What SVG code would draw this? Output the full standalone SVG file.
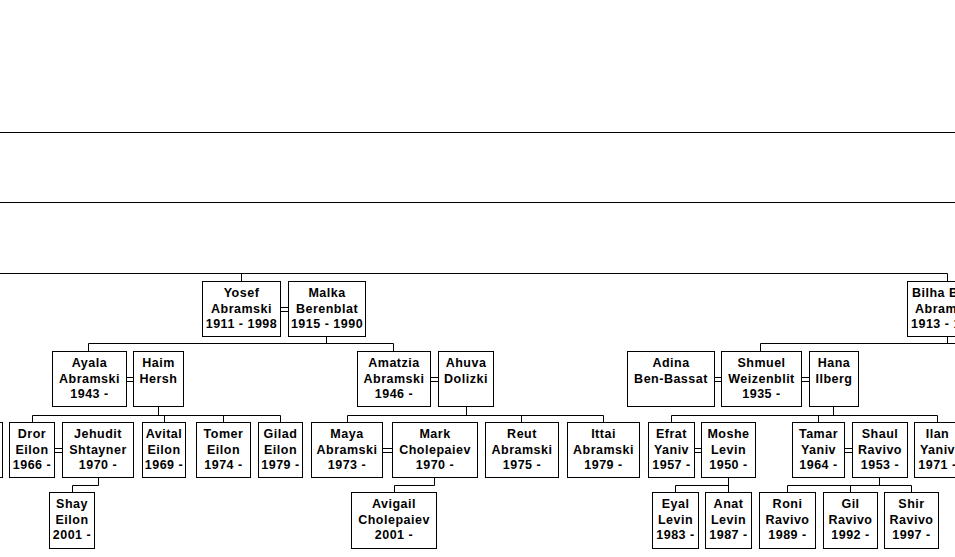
<svg xmlns="http://www.w3.org/2000/svg" width="955" height="557" viewBox="0 0 955 557">
<style>
rect.b{fill:#fff;stroke:#000;stroke-width:1}
#connectors line{stroke:#000;stroke-width:1}
text{font-family:"Liberation Sans",Arial,sans-serif;font-size:12.5px;font-weight:bold;fill:#000;text-anchor:middle;letter-spacing:0.5px}
text.s{text-anchor:start}
</style>
<rect x="0" y="0" width="955" height="557" fill="#fff"/>
<g id="connectors">
<line x1="0" y1="132.5" x2="955" y2="132.5"/>
<line x1="0" y1="202.5" x2="955" y2="202.5"/>
<line x1="0" y1="273.5" x2="947.5" y2="273.5"/>
<line x1="241.5" y1="273.5" x2="241.5" y2="281"/>
<line x1="947.5" y1="273.5" x2="947.5" y2="281"/>
<line x1="326.5" y1="336" x2="326.5" y2="343.5"/>
<line x1="88.5" y1="343.5" x2="393.5" y2="343.5"/>
<line x1="88.5" y1="343.5" x2="88.5" y2="351"/>
<line x1="393.5" y1="343.5" x2="393.5" y2="351"/>
<line x1="947.5" y1="336" x2="947.5" y2="343.5"/>
<line x1="760.5" y1="343.5" x2="955" y2="343.5"/>
<line x1="760.5" y1="343.5" x2="760.5" y2="351"/>
<line x1="158.5" y1="406" x2="158.5" y2="415.5"/>
<line x1="32.5" y1="415.5" x2="280.5" y2="415.5"/>
<line x1="32.5" y1="415.5" x2="32.5" y2="422"/>
<line x1="164.5" y1="415.5" x2="164.5" y2="422"/>
<line x1="223.5" y1="415.5" x2="223.5" y2="422"/>
<line x1="280.5" y1="415.5" x2="280.5" y2="422"/>
<line x1="98.5" y1="477" x2="98.5" y2="485.5"/>
<line x1="72.5" y1="485.5" x2="98.5" y2="485.5"/>
<line x1="72.5" y1="485.5" x2="72.5" y2="492"/>
<line x1="466.5" y1="406" x2="466.5" y2="415.5"/>
<line x1="347.5" y1="415.5" x2="603.5" y2="415.5"/>
<line x1="347.5" y1="415.5" x2="347.5" y2="422"/>
<line x1="521.5" y1="415.5" x2="521.5" y2="422"/>
<line x1="603.5" y1="415.5" x2="603.5" y2="422"/>
<line x1="434.5" y1="477" x2="434.5" y2="485.5"/>
<line x1="394.5" y1="485.5" x2="434.5" y2="485.5"/>
<line x1="394.5" y1="485.5" x2="394.5" y2="492"/>
<line x1="833.5" y1="406" x2="833.5" y2="415.5"/>
<line x1="671.5" y1="415.5" x2="937.5" y2="415.5"/>
<line x1="671.5" y1="415.5" x2="671.5" y2="422"/>
<line x1="818.5" y1="415.5" x2="818.5" y2="422"/>
<line x1="937.5" y1="415.5" x2="937.5" y2="422"/>
<line x1="728.5" y1="477" x2="728.5" y2="492"/>
<line x1="675.5" y1="485.5" x2="728.5" y2="485.5"/>
<line x1="675.5" y1="485.5" x2="675.5" y2="492"/>
<line x1="879.5" y1="477" x2="879.5" y2="485.5"/>
<line x1="787.5" y1="485.5" x2="911.5" y2="485.5"/>
<line x1="787.5" y1="485.5" x2="787.5" y2="492"/>
<line x1="850.5" y1="485.5" x2="850.5" y2="492"/>
<line x1="911.5" y1="485.5" x2="911.5" y2="492"/>
<!-- spouse links -->
<line x1="281" y1="307.5" x2="288" y2="307.5"/><line x1="281" y1="311.5" x2="288" y2="311.5"/>
<line x1="126" y1="377.5" x2="133" y2="377.5"/><line x1="126" y1="381.5" x2="133" y2="381.5"/>
<line x1="430" y1="377.5" x2="438" y2="377.5"/><line x1="430" y1="381.5" x2="438" y2="381.5"/>
<line x1="714" y1="377.5" x2="721" y2="377.5"/><line x1="714" y1="381.5" x2="721" y2="381.5"/>
<line x1="801" y1="377.5" x2="809" y2="377.5"/><line x1="801" y1="381.5" x2="809" y2="381.5"/>
<line x1="54" y1="448.5" x2="62" y2="448.5"/><line x1="54" y1="452.5" x2="62" y2="452.5"/>
<line x1="382" y1="448.5" x2="392" y2="448.5"/><line x1="382" y1="452.5" x2="392" y2="452.5"/>
<line x1="694" y1="448.5" x2="701" y2="448.5"/><line x1="694" y1="452.5" x2="701" y2="452.5"/>
<line x1="844" y1="448.5" x2="852" y2="448.5"/><line x1="844" y1="452.5" x2="852" y2="452.5"/>
</g>

<g id="yosef"><rect class="b" x="202.5" y="281.5" width="78" height="55"/><text x="241.5" y="297">Yosef</text><text x="241.5" y="313">Abramski</text><text x="241.5" y="328">1911 - 1998</text></g>
<g id="malka"><rect class="b" x="288.5" y="281.5" width="77" height="55"/><text x="327" y="297">Malka</text><text x="327" y="313">Berenblat</text><text x="327" y="328">1915 - 1990</text></g>
<g id="bilha"><rect class="b" x="907.5" y="281.5" width="80" height="55"/><text class="s" x="912" y="297">Bilha B</text><text class="s" x="915" y="313">Abram</text><text class="s" x="911" y="328">1913 - 1</text></g>

<g id="ayala"><rect class="b" x="52.5" y="351.5" width="74" height="55"/><text x="89.5" y="367">Ayala</text><text x="89.5" y="383">Abramski</text><text x="89.5" y="398">1943 -</text></g>
<g id="haim"><rect class="b" x="133.5" y="351.5" width="50" height="55"/><text x="158.5" y="367">Haim</text><text x="158.5" y="383">Hersh</text></g>
<g id="amatzia"><rect class="b" x="357.5" y="351.5" width="73" height="55"/><text x="394" y="367">Amatzia</text><text x="394" y="383">Abramski</text><text x="394" y="398">1946 -</text></g>
<g id="ahuva"><rect class="b" x="438.5" y="351.5" width="55" height="55"/><text x="466" y="367">Ahuva</text><text x="466" y="383">Dolizki</text></g>
<g id="adina"><rect class="b" x="627.5" y="351.5" width="87" height="55"/><text x="671" y="367">Adina</text><text x="671" y="383">Ben-Bassat</text></g>
<g id="shmuel"><rect class="b" x="721.5" y="351.5" width="80" height="55"/><text x="761.5" y="367">Shmuel</text><text x="761.5" y="383">Weizenblit</text><text x="761.5" y="398">1935 -</text></g>
<g id="hana"><rect class="b" x="809.5" y="351.5" width="49" height="55"/><text x="834" y="367">Hana</text><text x="834" y="383">Ilberg</text></g>

<g id="partial"><rect class="b" x="-50.5" y="422.5" width="53" height="55"/></g>
<g id="dror"><rect class="b" x="9.5" y="422.5" width="45" height="55"/><text x="32" y="438">Dror</text><text x="32" y="454">Eilon</text><text x="32" y="469">1966 -</text></g>
<g id="jehudit"><rect class="b" x="62.5" y="422.5" width="71" height="55"/><text x="98" y="438">Jehudit</text><text x="98" y="454">Shtayner</text><text x="98" y="469">1970 -</text></g>
<g id="avital"><rect class="b" x="142.5" y="422.5" width="43" height="55"/><text x="164" y="438">Avital</text><text x="164" y="454">Eilon</text><text x="164" y="469">1969 -</text></g>
<g id="tomer"><rect class="b" x="196.5" y="422.5" width="54" height="55"/><text x="223.5" y="438">Tomer</text><text x="223.5" y="454">Eilon</text><text x="223.5" y="469">1974 -</text></g>
<g id="gilad"><rect class="b" x="258.5" y="422.5" width="44" height="55"/><text x="280.5" y="438">Gilad</text><text x="280.5" y="454">Eilon</text><text x="280.5" y="469">1979 -</text></g>
<g id="maya"><rect class="b" x="311.5" y="422.5" width="71" height="55"/><text x="347" y="438">Maya</text><text x="347" y="454">Abramski</text><text x="347" y="469">1973 -</text></g>
<g id="mark"><rect class="b" x="392.5" y="422.5" width="85" height="55"/><text x="435" y="438">Mark</text><text x="435" y="454">Cholepaiev</text><text x="435" y="469">1970 -</text></g>
<g id="reut"><rect class="b" x="485.5" y="422.5" width="73" height="55"/><text x="522" y="438">Reut</text><text x="522" y="454">Abramski</text><text x="522" y="469">1975 -</text></g>
<g id="ittai"><rect class="b" x="567.5" y="422.5" width="72" height="55"/><text x="603.5" y="438">Ittai</text><text x="603.5" y="454">Abramski</text><text x="603.5" y="469">1979 -</text></g>
<g id="efrat"><rect class="b" x="648.5" y="422.5" width="46" height="55"/><text x="671.5" y="438">Efrat</text><text x="671.5" y="454">Yaniv</text><text x="671.5" y="469">1957 -</text></g>
<g id="moshe"><rect class="b" x="701.5" y="422.5" width="54" height="55"/><text x="728.5" y="438">Moshe</text><text x="728.5" y="454">Levin</text><text x="728.5" y="469">1950 -</text></g>
<g id="tamar"><rect class="b" x="792.5" y="422.5" width="52" height="55"/><text x="818.5" y="438">Tamar</text><text x="818.5" y="454">Yaniv</text><text x="818.5" y="469">1964 -</text></g>
<g id="shaul"><rect class="b" x="852.5" y="422.5" width="55" height="55"/><text x="880" y="438">Shaul</text><text x="880" y="454">Ravivo</text><text x="880" y="469">1953 -</text></g>
<g id="ilan"><rect class="b" x="914.5" y="422.5" width="46" height="55"/><text x="937.5" y="438">Ilan</text><text x="937.5" y="454">Yaniv</text><text x="937.5" y="469">1971 -</text></g>

<g id="shay"><rect class="b" x="49.5" y="492.5" width="45" height="56"/><text x="72" y="508">Shay</text><text x="72" y="524">Eilon</text><text x="72" y="539">2001 -</text></g>
<g id="avigail"><rect class="b" x="351.5" y="492.5" width="85" height="56"/><text x="394" y="508">Avigail</text><text x="394" y="524">Cholepaiev</text><text x="394" y="539">2001 -</text></g>
<g id="eyal"><rect class="b" x="652.5" y="492.5" width="46" height="56"/><text x="675.5" y="508">Eyal</text><text x="675.5" y="524">Levin</text><text x="675.5" y="539">1983 -</text></g>
<g id="anat"><rect class="b" x="705.5" y="492.5" width="46" height="56"/><text x="728.5" y="508">Anat</text><text x="728.5" y="524">Levin</text><text x="728.5" y="539">1987 -</text></g>
<g id="roni"><rect class="b" x="759.5" y="492.5" width="56" height="56"/><text x="787.5" y="508">Roni</text><text x="787.5" y="524">Ravivo</text><text x="787.5" y="539">1989 -</text></g>
<g id="gil"><rect class="b" x="823.5" y="492.5" width="54" height="56"/><text x="850.5" y="508">Gil</text><text x="850.5" y="524">Ravivo</text><text x="850.5" y="539">1992 -</text></g>
<g id="shir"><rect class="b" x="884.5" y="492.5" width="54" height="56"/><text x="911.5" y="508">Shir</text><text x="911.5" y="524">Ravivo</text><text x="911.5" y="539">1997 -</text></g>
</svg>
